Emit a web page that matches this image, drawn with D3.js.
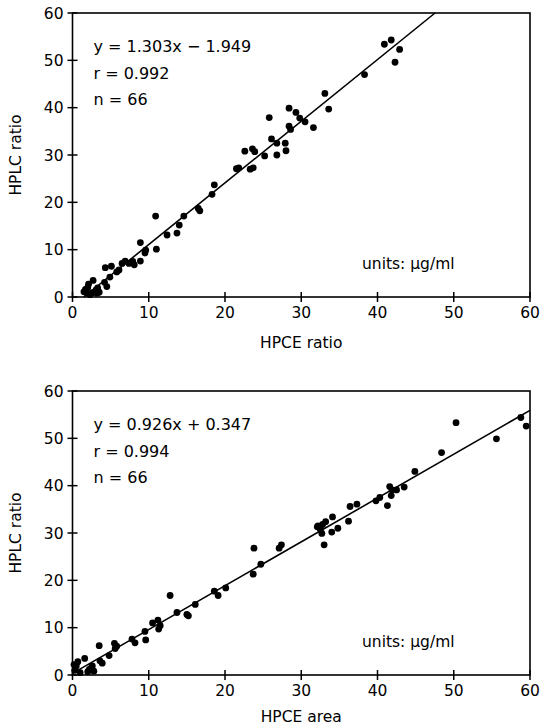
<!DOCTYPE html>
<html><head><meta charset="utf-8">
<script src="https://cdn.jsdelivr.net/npm/d3@7"></script>
<style>html,body{margin:0;padding:0;background:#fff;}svg{display:block;}</style>
</head><body>
<svg id="c" width="542" height="726"></svg>
<script>
// ---- data ----
const ticks = [0, 10, 20, 30, 40, 50, 60];

const topX = [10.9,14.6,14.0,12.4,13.7,8.9,11.0,9.6,9.5,8.9,7.9,8.1,7.4,6.5,6.9,6.1,5.8,5.1,4.3,4.9,4.2,4.5,2.7,2.1,3.3,3.1,3.2,1.5,1.9,2.6,1.7,
  18.6,18.3,16.5,16.7,
  38.3,33.1,33.6,31.6,30.5,29.8,28.4,29.3,25.8,28.4,28.6,26.1,26.8,27.9,28.0,26.8,25.2,22.6,23.6,23.9,21.8,21.5,23.3,23.7,
  40.9,41.8,42.9,42.3,2.3,3.5,2.0];
const topY = [17.1,17.1,15.2,13.1,13.5,11.5,10.1,9.9,9.3,7.6,7.5,6.8,7.1,7.1,7.6,5.7,5.3,6.5,6.2,4.2,3.1,2.2,3.5,2.7,1.9,1.5,0.8,1.1,0.8,0.9,1.6,
  23.7,21.7,18.7,18.2,
  47.0,43.0,39.7,35.8,37.0,37.8,39.9,39.0,37.9,36.1,35.4,33.4,32.5,32.5,30.9,30.0,29.8,30.8,31.3,30.7,27.3,27.1,27.0,27.3,
  53.4,54.3,52.3,49.6,0.5,1.0,2.0];

const bottomX = [12.8,13.7,15.0,11.2,11.5,11.3,9.5,9.6,7.8,8.2,5.5,5.8,5.6,4.8,3.5,3.6,3.9,2.6,2.2,2.0,2.5,1.6,0.7,0.5,0.3,
  27.4,27.1,23.8,24.7,23.7,20.1,18.6,19.1,16.1,15.2,
  44.9,41.6,41.9,42.5,43.5,41.8,41.3,39.8,40.3,36.4,37.3,36.2,34.1,33.2,32.2,32.5,32.7,34.0,34.8,33.0,32.1,
  50.3,58.8,59.5,55.6,48.4,1.0,2.8,0.2,32.8,10.5];
const bottomY = [16.8,13.2,12.8,11.6,10.4,9.7,9.2,7.4,7.6,6.8,6.7,6.1,5.6,4.1,6.2,3.0,2.5,1.9,1.2,0.7,1.6,3.5,2.8,1.9,1.0,
  27.5,26.8,26.8,23.4,21.3,18.4,17.7,16.8,14.9,12.5,
  43.0,39.8,39.1,39.1,39.7,37.9,35.8,36.8,37.5,35.6,36.1,32.5,33.4,32.4,31.5,30.8,29.9,30.2,31.0,27.5,31.3,
  53.3,54.4,52.6,49.9,47.0,0.5,0.8,2.2,31.8,11.0];

const topFit = {slope: 1.303, intercept: -1.949};
const bottomFit = {slope: 0.926, intercept: 0.347};
const topLabels = ["y = 1.303x \u2212 1.949", "r = 0.992", "n = 66"];
const bottomLabels = ["y = 0.926x + 0.347", "r = 0.994", "n = 66"];
const unitsLabel = "units: \u03bcg/ml";

// ---- drawing ----
const svg = d3.select("#c");
const FONT = "'DejaVu Sans', Verdana, sans-serif";
const L = 72.5, R = 530;

function panel(xs, ys, fit, labels, xTitle, top, bottom, titleDy) {
  const x = d3.scaleLinear().domain([0, 60]).range([L, R]);
  const y = d3.scaleLinear().domain([0, 60]).range([bottom, top]);
  const g = svg.append("g");

  // frame
  g.append("rect").attr("x", L).attr("y", top).attr("width", R - L).attr("height", bottom - top)
    .attr("fill", "none").attr("stroke", "#000").attr("stroke-width", 1.6);

  // x ticks (crossing)
  ticks.forEach(t => {
    g.append("line").attr("x1", x(t)).attr("x2", x(t)).attr("y1", bottom - 5).attr("y2", bottom + 5)
      .attr("stroke", "#000").attr("stroke-width", 1.5);
    g.append("text").attr("x", x(t)).attr("y", bottom + 21).attr("text-anchor", "middle")
      .attr("font-family", FONT).attr("font-size", 15.5).text(t);
  });
  // y ticks
  ticks.forEach(t => {
    g.append("line").attr("x1", L - 5).attr("x2", L + 5).attr("y1", y(t)).attr("y2", y(t))
      .attr("stroke", "#000").attr("stroke-width", 1.5);
    g.append("text").attr("x", L - 9).attr("y", y(t) + 5.5).attr("text-anchor", "end")
      .attr("font-family", FONT).attr("font-size", 15.5).text(t);
  });

  // fit line clipped to [0,60]
  let x0 = 0, x1 = 60;
  const yAt = v => fit.slope * v + fit.intercept;
  if (yAt(x0) < 0) x0 = -fit.intercept / fit.slope;
  if (yAt(x1) > 60) x1 = (60 - fit.intercept) / fit.slope;
  g.append("line").attr("x1", x(x0)).attr("y1", y(yAt(x0))).attr("x2", x(x1)).attr("y2", y(yAt(x1)))
    .attr("stroke", "#000").attr("stroke-width", 1.6);

  // points
  g.selectAll("circle.p").data(d3.range(xs.length)).join("circle")
    .attr("cx", i => x(xs[i])).attr("cy", i => y(ys[i])).attr("r", 3.4).attr("fill", "#000");

  // annotations
  labels.forEach((s, i) => {
    g.append("text").attr("x", L + 21).attr("y", top + 39 + i * 26.5)
      .attr("font-family", FONT).attr("font-size", 16).text(s);
  });
  g.append("text").attr("x", 362).attr("y", bottom - 28)
    .attr("font-family", FONT).attr("font-size", 15.5).text(unitsLabel);

  // axis titles
  g.append("text").attr("x", (L + R) / 2).attr("y", bottom + titleDy).attr("text-anchor", "middle")
    .attr("font-family", FONT).attr("font-size", 15.5).text(xTitle);
  g.append("text").attr("transform", `translate(21,${(top + bottom) / 2}) rotate(-90)`)
    .attr("text-anchor", "middle").attr("font-family", FONT).attr("font-size", 15.5).text("HPLC ratio");
}

panel(topX, topY, topFit, topLabels, "HPCE ratio", 13, 297, 51);
panel(bottomX, bottomY, bottomFit, bottomLabels, "HPCE area", 391, 675, 47);
</script>
</body></html>
